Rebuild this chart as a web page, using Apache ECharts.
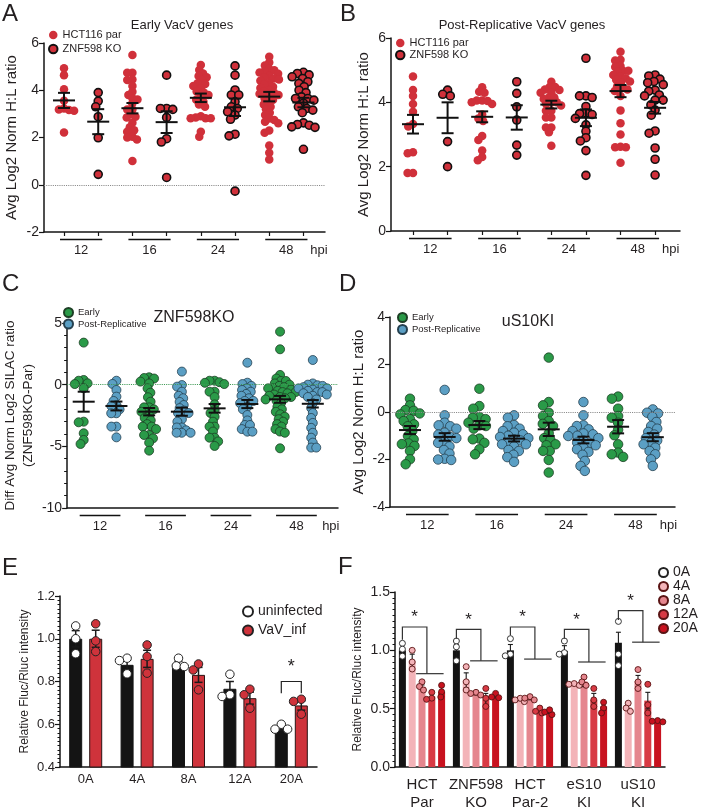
<!DOCTYPE html>
<html><head><meta charset="utf-8">
<script src="https://cdn.jsdelivr.net/npm/echarts@6.0.0/dist/echarts.min.js"></script>
<style>html,body{margin:0;padding:0;background:#fff}#c{width:702px;height:812px}</style>
</head><body><div id="c"></div><script>
// ---------------- DATA ----------------
const hpiLabels = ['12','16','24','48'];
// Panel A: Early VacV genes (groups 12,16,24,48 hpi)
const A_par = [
 [4.93,4.64,4.04,3.56,3.23,3.19,3.16,3.13,2.21],
 [5.49,4.74,4.74,4.46,4.43,4.18,3.94,3.80,3.66,3.61,3.44,3.19,3.19,2.98,2.88,2.85,2.62,2.43,2.31,2.24,2.03,2.00,1.92,1.01],
 [5.07,4.86,4.71,4.60,4.55,4.43,4.30,4.26,4.18,4.08,3.95,3.90,3.80,3.70,3.60,3.51,3.40,3.30,2.90,2.85,2.81,2.81,2.81,2.24,2.03],
 [5.42,5.17,5.05,4.90,4.85,4.80,4.75,4.70,4.60,4.55,4.50,4.45,4.40,4.30,4.25,4.15,4.10,4.00,3.95,3.90,3.85,3.80,3.75,3.65,3.60,3.50,3.40,3.30,3.20,3.05,2.95,2.80,2.74,2.67,2.60,2.30,2.20,1.66,1.35,1.07]
];
const A_ko = [
 [3.90,3.54,3.30,2.88,1.99,0.44],
 [4.64,3.23,3.23,3.19,2.85,1.95,1.81,0.31],
 [5.03,4.64,4.01,3.80,3.80,3.51,3.30,3.23,3.09,2.95,2.77,2.14,2.07,-0.27],
 [4.76,4.71,4.65,4.57,4.50,4.36,4.29,4.15,4.00,3.90,3.72,3.65,3.65,3.58,3.45,3.30,3.23,3.16,3.05,2.62,2.55,2.52,2.45,2.43,1.50]
];
const A_parMean = [3.57,3.24,3.68,3.73], A_parSem = [0.32,0.22,0.18,0.20];
const A_koMean  = [2.67,2.65,3.28,3.48], A_koSem  = [0.53,0.46,0.37,0.20];
// Panel B: Post-Replicative VacV genes
const B_par = [
 [4.80,4.38,4.20,3.95,3.71,3.33,3.25,2.45,2.42,1.80,1.80],
 [4.47,4.33,4.30,4.06,4.06,4.04,4.00,3.95,3.62,3.50,3.42,2.95,2.83,2.50,2.30,2.20],
 [4.64,4.48,4.48,4.40,4.38,4.30,4.30,4.15,4.15,4.10,4.00,4.00,3.95,3.90,3.74,3.74,3.53,3.53,3.22,3.22,3.07,2.65],
 [5.57,5.32,5.30,5.13,5.10,4.98,4.98,4.95,4.85,4.80,4.75,4.70,4.65,4.62,4.50,4.45,4.40,4.35,4.20,3.75,3.35,3.00,2.62,2.60,2.60,2.12]
];
const B_ko = [
 [4.38,4.25,4.20,2.78,2.00],
 [4.64,4.28,3.86,3.45,2.67,2.36],
 [5.37,4.20,4.20,4.15,3.87,3.67,3.65,3.62,3.50,3.30,3.10,2.90,2.80,2.50,1.73],
 [4.85,4.82,4.72,4.65,4.61,4.55,4.38,4.35,4.23,4.20,4.07,4.07,3.92,3.76,3.60,3.11,3.04,2.58,2.23,1.74]
];
const B_parMean = [3.32,3.55,3.93,4.35], B_parSem = [0.29,0.17,0.12,0.19];
const B_koMean  = [3.52,3.53,3.52,3.83], B_koSem  = [0.48,0.38,0.26,0.18];
// Panel C: ZNF598KO difference
const C_early = [
 [3.41,0.38,0.32,0.11,0.05,-0.29,-3.00,-3.05,-3.94,-4.48,-4.81],
 [0.60,0.54,0.50,0.25,0.10,-0.30,-0.65,-1.02,-1.38,-1.84,-1.84,-2.00,-2.20,-2.50,-2.70,-2.90,-3.20,-3.40,-3.40,-3.60,-4.08,-4.08,-4.35,-4.70,-5.35],
 [0.32,0.32,0.20,0.15,0.05,-0.57,-0.57,-1.00,-1.60,-2.05,-2.30,-2.60,-3.00,-3.40,-3.40,-3.80,-4.30,-4.30,-4.60,-4.97],
 [4.30,2.87,0.79,0.50,0.30,0.30,0.10,0.00,-0.10,-0.20,-0.30,-0.30,-0.40,-0.50,-0.60,-0.60,-0.70,-0.80,-0.90,-1.00,-1.00,-1.10,-1.20,-1.30,-1.50,-1.80,-2.00,-2.20,-2.40,-2.60,-2.80,-3.00,-3.20,-3.40,-3.60,-3.80,-3.90,-5.16]
];
const C_post = [
 [0.32,0.06,-0.43,-0.97,-1.32,-1.67,-1.73,-2.00,-2.32,-2.32,-3.40,-3.40,-4.27],
 [1.06,-0.03,-0.16,-0.57,-0.90,-1.10,-1.40,-1.65,-1.90,-2.10,-2.30,-2.30,-2.81,-3.00,-3.47,-3.47,-3.70,-3.90,-3.90,-3.90],
 [1.78,0.16,0.05,-0.10,-0.30,-0.43,-0.57,-0.75,-0.90,-1.10,-1.32,-1.32,-1.50,-1.80,-2.00,-2.46,-2.90,-3.27,-3.27,-3.60,-3.81,-3.81],
 [2.00,0.10,0.00,-0.05,-0.10,-0.20,-0.30,-0.30,-0.40,-0.50,-0.60,-0.60,-0.70,-0.80,-0.90,-1.00,-1.20,-1.50,-1.90,-2.30,-2.70,-3.10,-3.50,-3.90,-4.30,-4.70,-5.10,-5.10]
];
const C_earlyMean = [-1.38,-2.19,-1.92,-1.19], C_earlySem = [0.81,0.30,0.35,0.28];
const C_postMean  = [-1.73,-2.19,-1.57,-1.55], C_postSem  = [0.36,0.33,0.33,0.30];
// Panel D: uS10KI
const D_early = [
 [0.56,0.28,0.08,0.05,-0.06,-0.10,-0.30,-0.38,-0.52,-0.60,-0.80,-1.01,-1.15,-1.32,-1.35,-1.43,-1.64,-1.99,-2.20],
 [0.98,0.25,0.14,-0.21,-0.24,-0.30,-0.45,-0.56,-0.59,-0.70,-1.12,-1.15,-1.30,-1.57,-1.78],
 [2.29,0.42,0.28,-0.03,-0.17,-0.38,-0.50,-0.59,-0.90,-1.10,-1.18,-1.36,-1.40,-1.64,-1.64,-2.02,-2.55],
 [0.65,0.56,0.14,-0.17,-0.24,-0.45,-0.75,-0.98,-1.36,-1.71,-1.78,-1.89]
];
const D_post = [
 [0.93,-0.14,-0.45,-0.56,-0.60,-0.70,-0.87,-0.95,-1.04,-1.10,-1.26,-1.30,-1.45,-1.60,-1.75,-1.97,-2.00,-2.02],
 [-0.14,-0.24,-0.55,-0.60,-0.70,-0.80,-0.87,-0.94,-1.00,-1.05,-1.10,-1.15,-1.20,-1.30,-1.36,-1.36,-1.45,-1.60,-1.64,-1.80,-1.90,-2.10],
 [0.42,-0.14,-0.56,-0.59,-0.73,-0.80,-0.90,-0.94,-1.00,-1.01,-1.10,-1.20,-1.29,-1.32,-1.40,-1.50,-1.57,-1.68,-1.80,-2.06,-2.27,-2.48],
 [0.11,-0.03,-0.06,-0.20,-0.42,-0.59,-0.70,-0.84,-0.95,-1.10,-1.20,-1.29,-1.36,-1.50,-1.64,-1.78,-1.99,-2.27]
];
const D_earlyMean = [-0.76,-0.55,-0.73,-0.62], D_earlySem = [0.17,0.17,0.28,0.28];
const D_postMean  = [-1.05,-1.12,-1.18,-1.06], D_postSem  = [0.16,0.12,0.14,0.17];
// Panel E
const E_cats = ['0A','4A','8A','12A','20A'];
const E_uninfMean = [1.00,0.878,0.882,0.766,0.579], E_uninfSem = [0.038,0.022,0.012,0.034,0.008];
const E_vavMean   = [1.00,0.906,0.831,0.722,0.688], E_vavSem   = [0.040,0.040,0.035,0.028,0.022];
const E_uninfPts = [[1.06,1.00,0.93],[0.909,0.898,0.836],[0.909,0.873,0.870],[0.834,0.738,0.730],[0.600,0.577,0.577]];
const E_vavPts   = [[1.07,0.99,0.94],[0.971,0.917,0.839],[0.882,0.854,0.761],[0.764,0.738,0.675],[0.717,0.707,0.647]];
const E_sigCat = [4], E_sigTop = [0.80], E_sigFoot = [0.745];
// Panel F
const F_groups = ['HCT\nPar','ZNF598\nKO','HCT\nPar-2','eS10\nKI','uS10\nKI'];
const F_names = ['0A','4A','8A','12A','20A'];
const F_mean = [
 [1.00,1.00,1.00,0.995,1.065],
 [0.911,0.743,0.580,0.715,0.513],
 [0.688,0.631,0.589,0.734,0.737],
 [0.603,0.580,0.482,0.575,0.569],
 [0.645,0.608,0.471,0.519,0.392]
];
const F_sem = [
 [0.05,0.05,0.05,0.045,0.09],
 [0.056,0.064,0.010,0.005,0.020],
 [0.015,0.012,0.013,0.045,0.048],
 [0.025,0.051,0.013,0.056,0.071],
 [0.042,0.015,0.010,0.027,0.005]
];
const F_pts = [
 [[1.06,1.01,0.95],[1.08,1.03,0.91],[1.10,0.967,0.953],[1.08,0.98,0.967],[1.248,0.967,0.869]],
 [[1.00,0.90,0.84],[0.86,0.73,0.66],[0.589,0.575,0.56],[0.715,0.709,0.70],[0.547,0.505,0.477]],
 [[0.73,0.69,0.66],[0.64,0.617,0.63],[0.603,0.575,0.59],[0.771,0.729,0.70],[0.835,0.729,0.673]],
 [[0.64,0.59,0.58],[0.673,0.589,0.519],[0.505,0.477,0.463],[0.673,0.575,0.519],[0.709,0.533,0.463]],
 [[0.70,0.645,0.60],[0.631,0.594,0.60],[0.471,0.449,0.49],[0.555,0.505,0.463],[0.398,0.387,0.392]]
];
const F_sigTop = [1.20,1.18,1.20,1.18,1.34];
const F_sigLeft = [1.09,1.10,1.13,1.10,1.26];
const F_sigLow = [0.80,0.91,0.925,0.90,1.07];

// ---------------- STYLE / LAYOUT ----------------
const FONT = '"Liberation Sans", Arial, Helvetica, sans-serif';
const INK = '#231f20', AX = '#141414';
const RED = '#d0303a', GREEN = '#2a9a48', BLUE = '#5b9fc4';
const F_colors = ['#141414','#f3b3b8','#e5868e','#d83a44','#c8121f'];
const F_ptFill = ['#ffffff','#f3b3b8','#e5868e','#d83a44','#c8121f'];

const GR = [
 {left:44, top:43, width:281, height:189},   // A
 {left:391, top:38, width:289, height:193},  // B
 {left:60, top:323, width:278, height:185},  // C
 {left:390, top:317, width:285, height:190}, // D
 {left:60, top:596, width:257, height:171},  // E
 {left:395, top:592, width:270, height:178}  // F
];
const XR = [[-0.585,7.63],[-0.636,7.72],[-0.506,7.77],[-0.576,7.64]];
const YR = [[-2,6,2],[0,6,2],[-10,5,5],[-4,4,2]];
const HPI_POS = [7.45,7.45,7.55,7.45];

function kx(i){ return GR[i].width/(XR[i][1]-XR[i][0]); }
function ky(i){ return GR[i].height/(YR[i][1]-YR[i][0]); }

// deterministic beeswarm layout (horizontal offsets in px)
function swarm(vals, kY, d){
  const idx = vals.map((v,i)=>i).sort((a,b)=>vals[b]-vals[a]);
  const placed = [], out = new Array(vals.length).fill(0);
  for (const i of idx){
    const y = vals[i]*kY;
    const near = placed.filter(p=>Math.abs(p.y-y) < d);
    const cands = [0];
    near.forEach(p=>{ const dx = Math.sqrt(d*d-(p.y-y)*(p.y-y)); cands.push(p.x+dx, p.x-dx); });
    cands.sort((a,b)=>Math.abs(a)-Math.abs(b) || a-b);
    let x = 0;
    for (const c of cands){
      if (near.every(p=>(c-p.x)*(c-p.x)+(p.y-y)*(p.y-y) >= d*d-0.01)){ x = c; break; }
    }
    placed.push({x,y}); out[i] = x;
  }
  return out;
}
function swarmData(groups, xs, kY, kX, d){
  const data = [];
  groups.forEach((vals,g)=>{
    const off = swarm(vals, kY, d);
    vals.forEach((v,i)=>data.push([xs[g]+off[i]/kX, v]));
  });
  return data;
}

function meanSem(ax, xs, means, sems){
  return {type:'custom', xAxisIndex:ax, yAxisIndex:ax, z:6, silent:true, clip:false,
    data: xs.map((x,i)=>[x, means[i], sems[i]]),
    encode:{x:0, y:1},
    renderItem:(p, api)=>{
      const x=api.value(0), m=api.value(1), s=api.value(2);
      const c=api.coord([x,m]), t=api.coord([x,m+s]), b=api.coord([x,m-s]);
      const st={stroke:'#111', lineWidth:2};
      return {type:'group', children:[
        {type:'line', shape:{x1:c[0]-11,y1:c[1],x2:c[0]+11,y2:c[1]}, style:st},
        {type:'line', shape:{x1:c[0],y1:t[1],x2:c[0],y2:b[1]}, style:st},
        {type:'line', shape:{x1:c[0]-6,y1:t[1],x2:c[0]+6,y2:t[1]}, style:st},
        {type:'line', shape:{x1:c[0]-6,y1:b[1],x2:c[0]+6,y2:b[1]}, style:st}
      ]};
    }};
}
function underlines(ax){
  return {type:'custom', xAxisIndex:ax, yAxisIndex:ax, silent:true, clip:false,
    data: hpiLabels.map((l,i)=>[2*i, YR[ax][0]]),
    encode:{x:0,y:1},
    renderItem:(p, api)=>{
      const a=api.coord([api.value(0), api.value(1)]);
      const b=api.coord([api.value(0)+1, api.value(1)]);
      return {type:'line', shape:{x1:a[0]-4,y1:a[1]+7.5,x2:b[0]+4,y2:a[1]+7.5}, style:{stroke:'#111', lineWidth:1.5}};
    }};
}
function groupXAxis(i, ticks){
  return {gridIndex:i, type:'value', min:XR[i][0], max:XR[i][1],
    axisLine:{show:true, onZero:false, lineStyle:{color:AX, width:1.5}},
    axisTick:{show:ticks, customValues:[0,1,2,3,4,5,6,7], length:4, lineStyle:{color:AX, width:1.2}},
    axisLabel:{show:true, customValues:[0.5,2.5,4.5,6.5,HPI_POS[i]],
      formatter:v=> v>7 ? 'hpi' : hpiLabels[Math.round((v-0.5)/2)],
      margin:12, fontSize:13, color:INK, fontFamily:FONT},
    splitLine:{show:false}};
}
function valY(i, name, gap, nameSize, extra){
  return Object.assign({gridIndex:i, type:'value', min:YR[i]?YR[i][0]:undefined, max:YR[i]?YR[i][1]:undefined, interval:YR[i]?YR[i][2]:undefined,
    axisLine:{show:true, onZero:false, lineStyle:{color:AX, width:1.5}},
    axisTick:{show:true, length:5, lineStyle:{color:AX, width:1.2}},
    axisLabel:{fontSize:14, color:INK, margin:5, fontFamily:FONT},
    splitLine:{show:false},
    name, nameLocation:'middle', nameGap:gap, nameRotate:90,
    nameTextStyle:{fontSize:nameSize, color:INK, fontFamily:FONT, lineHeight:nameSize+5}}, extra||{});
}
function zeroLine(color){
  return {silent:true, symbol:'none', label:{show:false}, lineStyle:{type:'dotted', color, width:1.1}, data:[{yAxis:0}]};
}
function dots(ax, name, groups, xs, size, d, style, mark){
  const s = {type:'scatter', name, xAxisIndex:ax, yAxisIndex:ax, symbol:'circle', symbolSize:size, z:3,
    itemStyle:Object.assign({opacity:1}, style), data: swarmData(groups, xs, ky(ax), kx(ax), d)};
  if (mark) s.markLine = mark;
  return s;
}

const EVEN=[0,2,4,6], ODD=[1,3,5,7];
const kxE = GR[4].width/5, kyE = GR[4].height/0.8;
const kxF = GR[5].width/5, kyF = GR[5].height/1.5;
const E_half = 10, F_step = 9.8;

const series = [
  // A
  dots(0,'HCT116 par',A_par,EVEN,8.5,5.2,{color:RED}, zeroLine('#8a8a8a')),
  dots(0,'ZNF598 KO',A_ko,ODD,8,6.2,{color:RED,borderColor:'#111',borderWidth:1.6}),
  meanSem(0,EVEN,A_parMean,A_parSem), meanSem(0,ODD,A_koMean,A_koSem), underlines(0),
  // B
  dots(1,'HCT116 par',B_par,EVEN,8.5,5.4,{color:RED}),
  dots(1,'ZNF598 KO',B_ko,ODD,8,6.4,{color:RED,borderColor:'#111',borderWidth:1.6}),
  meanSem(1,EVEN,B_parMean,B_parSem), meanSem(1,ODD,B_koMean,B_koSem), underlines(1),
  // C
  dots(2,'Early',C_early,EVEN,9,5.2,{color:GREEN,borderColor:'#1d3f25',borderWidth:0.8}, zeroLine('#3f9a55')),
  dots(2,'Post-Replicative',C_post,ODD,9,5.2,{color:BLUE,borderColor:'#25404f',borderWidth:0.8}),
  meanSem(2,EVEN,C_earlyMean,C_earlySem), meanSem(2,ODD,C_postMean,C_postSem), underlines(2),
  // D
  dots(3,'Early',D_early,EVEN,9.5,6.6,{color:GREEN,borderColor:'#1d3f25',borderWidth:0.8}, zeroLine('#8a8a8a')),
  dots(3,'Post-Replicative',D_post,ODD,9.5,6.6,{color:BLUE,borderColor:'#25404f',borderWidth:0.8}),
  meanSem(3,EVEN,D_earlyMean,D_earlySem), meanSem(3,ODD,D_postMean,D_postSem), underlines(3),
  // E bars
  {type:'bar', name:'uninfected mean', xAxisIndex:4, yAxisIndex:4, data:E_uninfMean, barWidth:13, barGap:'54%', z:2,
    itemStyle:{color:'#141414', borderColor:'#141414', borderWidth:1}},
  {type:'bar', name:'VaV_inf mean', xAxisIndex:4, yAxisIndex:4, data:E_vavMean, barWidth:13, barGap:'54%', z:2,
    itemStyle:{color:'#cf333b', borderColor:'#2a1414', borderWidth:1}},
];
function errBars(xAx, yAx, xs, means, sems, cap, lw){
  return {type:'custom', xAxisIndex:xAx, yAxisIndex:yAx, z:3, silent:true, clip:false,
    data: xs.map((x,i)=>[x, means[i], sems[i]]), encode:{x:0,y:1},
    renderItem:(p, api)=>{
      const x=api.value(0), m=api.value(1), s=api.value(2);
      const t=api.coord([x,m+s]), b=api.coord([x,m-s]);
      const st={stroke:'#1a1a1a', lineWidth:lw};
      return {type:'group', children:[
        {type:'line', shape:{x1:t[0],y1:t[1],x2:b[0],y2:b[1]}, style:st},
        {type:'line', shape:{x1:t[0]-cap,y1:t[1],x2:t[0]+cap,y2:t[1]}, style:st},
        {type:'line', shape:{x1:b[0]-cap,y1:b[1],x2:b[0]+cap,y2:b[1]}, style:st}]};
    }};
}
const E_xU = E_cats.map((c,i)=>i - E_half/kxE), E_xV = E_cats.map((c,i)=>i + E_half/kxE);
series.push(errBars(5,4,E_xU,E_uninfMean,E_uninfSem,4,1.5));
series.push(errBars(5,4,E_xV,E_vavMean,E_vavSem,4,1.5));
series.push({type:'scatter', name:'uninfected', xAxisIndex:5, yAxisIndex:4, symbolSize:8.5, z:4,
  itemStyle:{opacity:1, color:'#ffffff', borderColor:'#222', borderWidth:1}, data:swarmData(E_uninfPts,E_xU,kyE,kxE,8)});
series.push({type:'scatter', name:'VaV_inf', xAxisIndex:5, yAxisIndex:4, symbolSize:8.5, z:4,
  itemStyle:{opacity:1, color:'#cf333b', borderColor:'#222', borderWidth:1}, data:swarmData(E_vavPts,E_xV,kyE,kxE,8)});
series.push({type:'custom', xAxisIndex:5, yAxisIndex:4, silent:true, clip:false, z:5,
  data:E_sigCat.map((c,i)=>[c,E_sigTop[i],E_sigFoot[i]]), encode:{x:0,y:1},
  renderItem:(p, api)=>{
    const a=api.coord([api.value(0), api.value(1)]), f=api.coord([api.value(0), api.value(2)]);
    return {type:'group', children:[
      {type:'polyline', shape:{points:[[a[0]-E_half,f[1]],[a[0]-E_half,a[1]],[a[0]+E_half,a[1]],[a[0]+E_half,f[1]]]}, style:{stroke:'#222', lineWidth:1.2, fill:null}},
      {type:'text', style:{text:'*', x:a[0], y:a[1]-5, align:'center', verticalAlign:'bottom', font:'18px '+FONT, fill:INK}}
    ]};
  }});
// F
F_names.forEach((n,k)=>{
  series.push({type:'bar', name:n+' mean', xAxisIndex:6, yAxisIndex:5, data:F_mean[k], barWidth:7, barGap:'40%', z:2,
    itemStyle:{color:F_colors[k]}});
});
F_names.forEach((n,k)=>{
  const xs = F_groups.map((g,i)=>i + (k-2)*F_step/kxF);
  series.push(errBars(7,5,xs,F_mean[k],F_sem[k],2.5,1.1));
  series.push({type:'scatter', name:n, xAxisIndex:7, yAxisIndex:5, symbolSize:6, z:4,
    itemStyle:{opacity:1, color:F_ptFill[k], borderColor: k===0?'#222':'#5a1414', borderWidth:0.9},
    data:swarmData(F_pts[k],xs,kyF,kxF,5.4)});
});
series.push({type:'custom', xAxisIndex:7, yAxisIndex:5, silent:true, clip:false, z:5,
  data:F_groups.map((g,i)=>[i,F_sigTop[i],F_sigLeft[i],F_sigLow[i]]), encode:{x:0,y:1},
  renderItem:(p, api)=>{
    const c=api.coord([api.value(0), api.value(1)]);
    const yl=api.coord([api.value(0), api.value(2)])[1], ylow=api.coord([api.value(0), api.value(3)])[1];
    const lx=c[0]-2*F_step, rx=c[0]+0.5*F_step;
    const st={stroke:'#333', lineWidth:1.2, fill:null};
    return {type:'group', children:[
      {type:'polyline', shape:{points:[[lx,yl],[lx,c[1]],[rx,c[1]],[rx,ylow]]}, style:st},
      {type:'line', shape:{x1:c[0]-0.6*F_step,y1:ylow,x2:c[0]+2*F_step+2,y2:ylow}, style:st},
      {type:'text', style:{text:'*', x:(lx+rx)/2, y:c[1]-1, align:'center', verticalAlign:'bottom', font:'17px '+FONT, fill:INK}}
    ]};
  }});

const xAxis = [
  groupXAxis(0,true), groupXAxis(1,true), groupXAxis(2,false), groupXAxis(3,false),
  {gridIndex:4, type:'category', data:E_cats, axisLine:{onZero:false, lineStyle:{color:AX,width:1.5}}, axisTick:{show:false},
    axisLabel:{fontSize:13, color:INK, margin:6, fontFamily:FONT, interval:0}},
  {gridIndex:4, type:'value', min:-0.5, max:4.5, show:false},
  {gridIndex:5, type:'category', data:F_groups, axisLine:{onZero:false, lineStyle:{color:AX,width:1.5}}, axisTick:{show:false},
    axisLabel:{fontSize:15, lineHeight:18, color:INK, margin:9, fontFamily:FONT, interval:0}},
  {gridIndex:5, type:'value', min:-0.5, max:4.5, show:false}
];
const yAxis = [
  valY(0,'Avg Log2 Norm H:L ratio',22,15),
  valY(1,'Avg Log2 Norm H:L ratio',14,15),
  valY(2,'Diff Avg Norm Log2 SILAC ratio\n(ZNF598KO-Par)',17,13.5,{minorTick:{show:true, splitNumber:5, length:3, lineStyle:{color:AX}}}),
  valY(3,'Avg Log2 Norm H:L ratio',14,15),
  valY(4,'Relative Fluc/Rluc intensity',19,12,{min:0.4,max:1.2,interval:0.2,
    minorTick:{show:true, splitNumber:10, length:2.5, lineStyle:{color:AX}}}),
  valY(5,'Relative Fluc/Rluc intensity',23,12,{min:0,max:1.5,interval:0.5,
    minorTick:{show:true, splitNumber:10, length:2.5, lineStyle:{color:AX}}})
];
yAxis[4].axisLabel = Object.assign({}, yAxis[4].axisLabel, {fontSize:13, formatter:v=>v.toFixed(1)});
yAxis[5].axisLabel = Object.assign({}, yAxis[5].axisLabel, {fontSize:14, formatter:v=>v.toFixed(1)});

function leg(left, top, data, size, font, gap){
  return {left, top, orient:'vertical', data, icon:'circle', itemWidth:size, itemHeight:size, itemGap:gap, padding:0,
    selectedMode:false, textStyle:{fontSize:font, color:INK, fontFamily:FONT, lineHeight:font+1}};
}
const legend = [
  leg(48,29,['HCT116 par','ZNF598 KO'],8.5,11,2),
  leg(395,37,['HCT116 par','ZNF598 KO'],8.5,11,0),
  leg(63,307,['Early','Post-Replicative'],9,9.5,0.5),
  leg(397,312,['Early','Post-Replicative'],9,9.5,1),
  leg(242,604,['uninfected','VaV_inf'],10,14,4),
  leg(658,565,F_names,9,14,-1)
];

function txt(text, x, y, size, align){
  return {type:'text', x, y, silent:true,
    style:{text, font:size+'px '+FONT, fill:INK, align:align||'left', verticalAlign:align?'middle':'top'}};
}
const graphic = [
  txt('A',2,2,24), txt('B',340,2,24), txt('C',2,272,24), txt('D',339,272,24), txt('E',2,556,24), txt('F',338,555,24),
  txt('Early VacV genes',182,25,13,'center'),
  txt('Post-Replicative VacV genes',522,25,13,'center'),
  txt('ZNF598KO',194,318,16,'center'),
  txt('uS10KI',528,322,16,'center')
];

const chart = echarts.init(document.getElementById('c'), null, {renderer:'canvas'});
chart.setOption({animation:false, textStyle:{fontFamily:FONT, color:INK},
  grid: GR.map(g=>Object.assign({containLabel:false}, g)),
  xAxis, yAxis, legend, series, graphic});
</script></body></html>
